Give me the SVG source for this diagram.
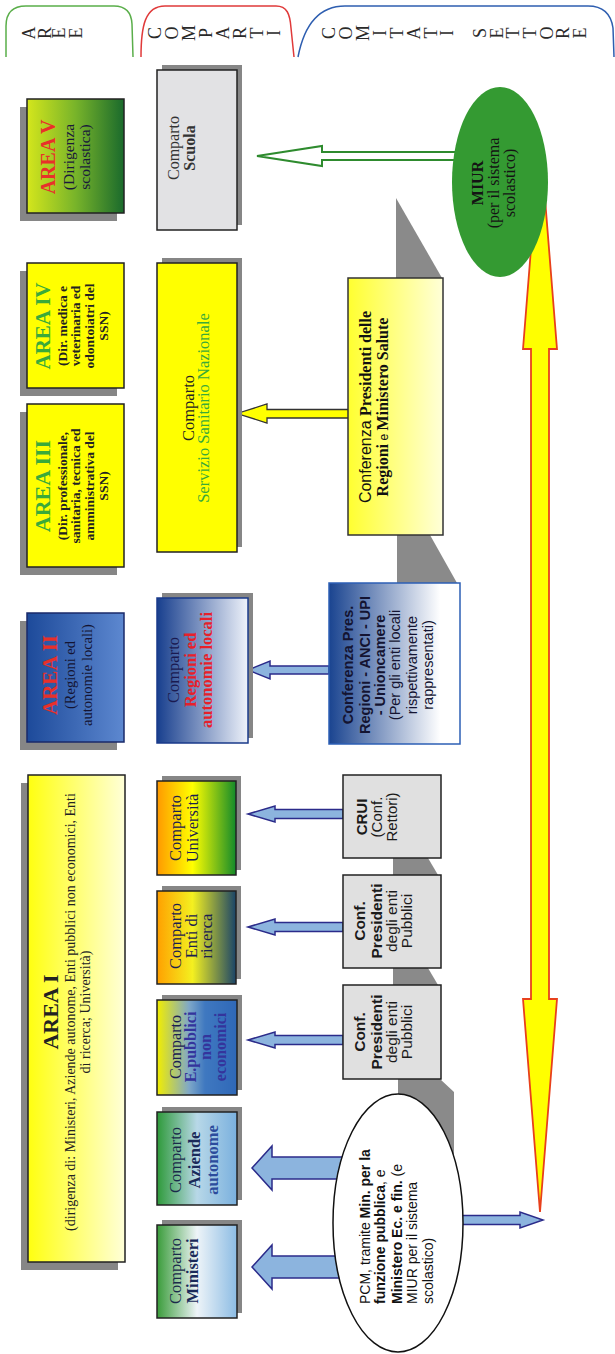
<svg xmlns="http://www.w3.org/2000/svg" width="615" height="1354" viewBox="0 0 615 1354">
<defs>
<linearGradient id="gAV" x1="0" y1="0" x2="1" y2="0"><stop offset="0" stop-color="#d4e61c"/><stop offset="0.5" stop-color="#78b42a"/><stop offset="1" stop-color="#1a6a2c"/></linearGradient>
<linearGradient id="gAI" x1="0" y1="0" x2="1" y2="0"><stop offset="0" stop-color="#ffff10"/><stop offset="1" stop-color="#ffffd8"/></linearGradient>
<linearGradient id="gConf" x1="0" y1="0" x2="1" y2="0"><stop offset="0" stop-color="#ffff30"/><stop offset="1" stop-color="#ffffd8"/></linearGradient>
<linearGradient id="gAII" x1="0" y1="0" x2="1" y2="0"><stop offset="0" stop-color="#1d4a9a"/><stop offset="1" stop-color="#5d88d0"/></linearGradient>
<linearGradient id="gBW" x1="0" y1="0" x2="1" y2="0"><stop offset="0" stop-color="#183f8e"/><stop offset="1" stop-color="#eef2fa"/></linearGradient>
<linearGradient id="gCR" x1="0" y1="0" x2="1" y2="0"><stop offset="0" stop-color="#1a4490"/><stop offset="0.85" stop-color="#ffffff"/></linearGradient>
<linearGradient id="gUni" x1="0" y1="0" x2="1" y2="0"><stop offset="0" stop-color="#ff9900"/><stop offset="0.45" stop-color="#ffff00"/><stop offset="1" stop-color="#138a2a"/></linearGradient>
<linearGradient id="gEnti" x1="0" y1="0" x2="1" y2="0"><stop offset="0" stop-color="#ffa000"/><stop offset="0.45" stop-color="#f4f020"/><stop offset="1" stop-color="#1a4468"/></linearGradient>
<linearGradient id="gEpub" x1="0" y1="0" x2="1" y2="0"><stop offset="0" stop-color="#f2ee00"/><stop offset="0.4" stop-color="#7fa8c8"/><stop offset="0.6" stop-color="#3f78c0"/><stop offset="1" stop-color="#2f68b8"/></linearGradient>
<linearGradient id="gAz" x1="0" y1="0" x2="1" y2="0"><stop offset="0" stop-color="#2e9a3a"/><stop offset="0.5" stop-color="#b8d8e8"/><stop offset="1" stop-color="#7ab0de"/></linearGradient>
<linearGradient id="gMin" x1="0" y1="0" x2="1" y2="0"><stop offset="0" stop-color="#3a9c3a"/><stop offset="0.5" stop-color="#eef4f8"/><stop offset="1" stop-color="#8cbce4"/></linearGradient>
</defs>
<style>
.sr{font-family:"Liberation Serif","Times New Roman",serif}
.ss{font-family:"Liberation Sans",Arial,sans-serif}
.b{font-weight:bold}
.bx{stroke:#222;stroke-width:1.5}
.sh{fill:#868686}
.grey{fill:#8a8a8a}
.ba{fill:#8cb4de;stroke:#2b2b8a;stroke-width:1.5}
.hdr{font-family:"Liberation Serif","Times New Roman",serif;font-size:18px;fill:#2a2a2a}
</style>
<rect width="615" height="1354" fill="#ffffff"/>

<g id="headers">
<path d="M6,57 L6,26 Q6,6 26,6 L114,6 Q131,6 132,24 L133,57" fill="none" stroke="#5aae4a" stroke-width="1.5"/>
<path d="M141,57 C141,26 145,6 165,6 L276,6 C287,6 290,14 291,28 L294,57" fill="none" stroke="#e03a3a" stroke-width="1.5"/>
<path d="M298,57 C304,26 318,6 345,6 L588,6 C604,6 611,14 613,28 L614,57" fill="none" stroke="#2e5eb0" stroke-width="1.5"/>
<text class="hdr" x="35 51 65 82" y="39.5 39 38.5 38.5" rotate="-90">AREE</text>
<text class="hdr" x="161 178 195 212 229 246 263 280" y="39 39.5 41 38 39.5 39 38.5 36" rotate="-90">COMPARTI</text>
<text class="hdr" x="335 352 369 386 403 420 437 453 469 486 503 519 536 553 569 586" y="39 39.5 41 36 38.5 39.5 38.5 36 33 38 38.5 38.5 38.5 39.5 39 38.5" rotate="-90">COMITATI SETTORE</text>
</g>

<g id="connectors">
<polygon class="grey" points="396,198 442,278 396,278"/>
<polygon class="grey" points="397,535 430,535 457,583 397,583"/>
<polygon class="grey" points="393,858 428,858 438,875 393,875"/>
<polygon class="grey" points="393,968 428,968 438,985 393,985"/>
<path class="grey" d="M398,1079 L440,1079 L454,1092 L454,1157.5 A65,129 0 0 0 398,1094 Z"/>
<polygon points="540,136 557,349 549,349 549,999 557,999 540,1212 523,999 531,999 531,349 523,349" fill="#ffff00" stroke="#e8401c" stroke-width="1.8"/>
<polygon points="257,156 322,146 322,152 456,152 456,160 322,160 322,166" fill="#ffffff" stroke="#2e8b2e" stroke-width="2"/>
<polygon points="237,413.5 267,404 267,409.5 350,409.5 350,418 267,418 267,423" fill="#ffff00" stroke="#333" stroke-width="1.3"/>
<polygon class="ba" points="248,670 270,661 270,666 329,666 329,674 270,674 270,679"/>
<polygon class="ba" points="248,814 275,806 275,809.5 343,809.5 343,818.5 275,818.5 275,822"/>
<polygon class="ba" points="248,927 275,919 275,922.5 343,922.5 343,931.5 275,931.5 275,935"/>
<polygon class="ba" points="248,1040 275,1032 275,1035.5 343,1035.5 343,1044.5 275,1044.5 275,1048"/>
<polygon class="ba" points="252,1168 272,1146 272,1157 350,1157 350,1179 272,1179 272,1190"/>
<polygon class="ba" points="252,1267 272,1245 272,1256 350,1256 350,1278 272,1278 272,1289"/>
<polygon class="ba" points="455,1215.5 520,1215.5 520,1212 543,1220 520,1228 520,1224.5 455,1224.5"/>
</g>

<g id="area5">
<rect class="sh" x="20" y="107" width="97" height="114"/>
<rect class="bx" x="27" y="99" width="97" height="114" fill="url(#gAV)"/>
<g transform="translate(75.5,157) rotate(-90)" text-anchor="middle" class="sr">
<text y="-20.5" class="b" font-size="20" fill="#e8302a">AREA V</text>
<text y="-1.8" font-size="15.5" fill="#1a1a3a">(Dirigenza</text>
<text y="14.2" font-size="15.5" fill="#1a1a3a">scolastica)</text>
</g>
</g>

<g id="area4">
<rect class="sh" x="20" y="271" width="97" height="125"/>
<rect class="bx" x="27" y="263" width="97" height="125" fill="#ffff00"/>
<g transform="translate(75.5,326) rotate(-90)" text-anchor="middle" class="sr">
<text y="-25.2" class="b" font-size="21" fill="#3aaa3a">AREA IV</text>
<text y="-8.8" class="b" font-size="13.5" fill="#222">(Dir. medica e</text>
<text y="4.2" class="b" font-size="13.5" fill="#222">veterinaria ed</text>
<text y="18.2" class="b" font-size="13.5" fill="#222">odontoiatri del</text>
<text y="32.2" class="b" font-size="13.5" fill="#222">SSN)</text>
</g>
</g>

<g id="area3">
<rect class="sh" x="20" y="412" width="97" height="163"/>
<rect class="bx" x="27" y="404" width="97" height="163" fill="#ffff00"/>
<g transform="translate(75.5,486) rotate(-90)" text-anchor="middle" class="sr">
<text y="-25.2" class="b" font-size="22" fill="#3aaa3a">AREA III</text>
<text y="-8.8" class="b" font-size="13.5" fill="#222">(Dir. professionale,</text>
<text y="4.2" class="b" font-size="13.5" fill="#222">sanitaria, tecnica ed</text>
<text y="18.2" class="b" font-size="13.5" fill="#222">amministrativa del</text>
<text y="32.2" class="b" font-size="13.5" fill="#222">SSN)</text>
</g>
</g>

<g id="area2">
<rect class="sh" x="20" y="621" width="97" height="129"/>
<rect x="27" y="613" width="97" height="129" fill="url(#gAII)" stroke="#1a2a6a" stroke-width="1.5"/>
<g transform="translate(75.5,675) rotate(-90)" text-anchor="middle" class="sr">
<text y="-18.2" class="b" font-size="21" fill="#e8302a">AREA II</text>
<text y="-0.3" font-size="14.5" fill="#141432">(Regioni ed</text>
<text y="16.7" font-size="14.5" fill="#141432">autonomie locali)</text>
</g>
</g>

<g id="area1">
<rect class="sh" x="21" y="783" width="97" height="487"/>
<rect class="bx" x="28" y="775" width="97" height="487" fill="url(#gAI)"/>
<g transform="translate(76.5,1012) rotate(-90)" text-anchor="middle" class="sr" fill="#222">
<text y="-18.8" class="b" font-size="22">AREA I</text>
<text y="-1.2" font-size="14">(dirigenza di: Ministeri, Aziende autonome, Enti pubblici non economici, Enti</text>
<text y="13.2" font-size="14">di ricerca; Università)</text>
</g>
</g>

<g id="comparto-scuola">
<rect class="sh" x="162" y="65" width="80" height="160"/>
<rect class="bx" x="157" y="70" width="80" height="160" fill="#e2e2e4"/>
<g transform="translate(197,148) rotate(-90)" text-anchor="middle" class="sr" font-size="16" fill="#333">
<text y="-18.4">Comparto</text>
<text y="-2.4" class="b">Scuola</text>
</g>
</g>

<g id="comparto-ssn">
<rect class="sh" x="162" y="258" width="80" height="289"/>
<rect class="bx" x="157" y="263" width="80" height="289" fill="#ffff00"/>
<g transform="translate(197,408) rotate(-90)" text-anchor="middle" class="sr" font-size="16.5">
<text y="-3.2" fill="#222">Comparto</text>
<text y="11.8" fill="#3aaa3a">Servizio Sanitario Nazionale</text>
</g>
</g>

<g id="comparto-regioni">
<rect class="sh" x="162" y="593" width="91" height="145"/>
<rect x="157" y="598" width="91" height="145" fill="url(#gBW)" stroke="#1a3a8a" stroke-width="1.5"/>
<g transform="translate(202.5,670) rotate(-90)" text-anchor="middle" class="sr" font-size="16.5">
<text y="-23.7" fill="#1a1a50">Comparto</text>
<text y="-6.7" class="b" fill="#e8202a">Regioni ed</text>
<text y="9.3" class="b" fill="#e8202a">autonomie locali</text>
</g>
</g>

<g id="comparto-universita">
<rect class="sh" x="162" y="776" width="79" height="94"/>
<rect class="bx" x="157" y="781" width="79" height="94" fill="url(#gUni)"/>
<g transform="translate(196.5,828) rotate(-90)" text-anchor="middle" class="sr" font-size="16.5" fill="#1a2050">
<text y="-15.7">Comparto</text>
<text y="1.3">Università</text>
</g>
</g>

<g id="comparto-enti-ricerca">
<rect class="sh" x="162" y="886" width="79" height="93"/>
<rect class="bx" x="157" y="891" width="79" height="93" fill="url(#gEnti)"/>
<g transform="translate(196.5,936) rotate(-90)" text-anchor="middle" class="sr" font-size="16.5" fill="#1a2050">
<text y="-15.7">Comparto</text>
<text y="0.3">Enti di</text>
<text y="15.3">ricerca</text>
</g>
</g>

<g id="comparto-epubblici">
<rect class="sh" x="162" y="995" width="80" height="95"/>
<rect class="bx" x="157" y="1000" width="80" height="95" fill="url(#gEpub)"/>
<g transform="translate(197,1047) rotate(-90)" text-anchor="middle" class="sr" font-size="16">
<text y="-16.2" fill="#1a2050">Comparto</text>
<text y="-1.2" class="b" fill="#34349c">E.pubblici</text>
<text y="13.8" class="b" fill="#34349c">non</text>
<text y="28.8" class="b" fill="#34349c">economici</text>
</g>
</g>

<g id="comparto-aziende">
<rect class="sh" x="162" y="1107" width="80" height="93"/>
<rect class="bx" x="157" y="1112" width="80" height="93" fill="url(#gAz)"/>
<g transform="translate(197,1160) rotate(-90)" text-anchor="middle" class="sr" font-size="16.5">
<text y="-16.2" fill="#1a2a4a">Comparto</text>
<text y="2.8" class="b" fill="#1a2a5a">Aziende</text>
<text y="20.8" class="b" fill="#2c4c9c">autonome</text>
</g>
</g>

<g id="comparto-ministeri">
<rect class="sh" x="162" y="1220" width="80" height="93"/>
<rect class="bx" x="157" y="1225" width="80" height="93" fill="url(#gMin)"/>
<g transform="translate(197,1271) rotate(-90)" text-anchor="middle" class="sr" font-size="16.5">
<text y="-16.2" fill="#1a2a4a">Comparto</text>
<text y="0.8" class="b" fill="#1a2a5a">Ministeri</text>
</g>
</g>

<g id="miur">
<ellipse cx="500" cy="182" rx="48" ry="95" fill="#349a32"/>
<g transform="translate(500,183) rotate(-90)" text-anchor="middle" class="sr" fill="#141414">
<text y="-17.4" class="b" font-size="16">MIUR</text>
<text y="-0.8" font-size="16">(per il sistema</text>
<text y="15.2" font-size="16">scolastico)</text>
</g>
</g>

<g id="conf-regioni-salute">
<rect x="348" y="278" width="95" height="257" fill="url(#gConf)" stroke="#333" stroke-width="1.5"/>
<g transform="translate(395.5,407) rotate(-90)" text-anchor="middle" font-size="16" fill="#111">
<text y="-24.9"><tspan class="ss">Conferenza </tspan><tspan class="sr b">Presidenti delle</tspan></text>
<text y="-7.9"><tspan class="sr b">Regioni</tspan><tspan class="ss" font-size="12"> e </tspan><tspan class="sr b">Ministero Salute</tspan></text>
</g>
</g>

<g id="conf-regioni-anci">
<rect x="329" y="583" width="131" height="161" fill="url(#gCR)" stroke="#2d5fb5" stroke-width="1.5"/>
<g transform="translate(394.5,665) rotate(-90)" text-anchor="middle" class="ss" font-size="14.5" fill="#141432">
<text y="-41.2" class="b">Conferenza Pres.</text>
<text y="-24.2" class="b">Regioni - ANCI - UPI</text>
<text y="-9.2" class="b">- Unioncamere</text>
<text y="5.8">(Per gli enti locali</text>
<text y="22.8">rispettivamente</text>
<text y="38.8">rappresentati)</text>
</g>
</g>

<g id="crui">
<rect class="bx" x="343" y="775" width="98" height="83" fill="#e0e0e0"/>
<g transform="translate(392,817) rotate(-90)" text-anchor="middle" class="ss" font-size="15" fill="#1a1a1a">
<text y="-24.7" class="b">CRUI</text>
<text y="-9.7">(Conf.</text>
<text y="5.3">Rettori)</text>
</g>
</g>

<g id="conf-enti-1">
<rect class="bx" x="343" y="875" width="98" height="93" fill="#e0e0e0"/>
<g transform="translate(392,921) rotate(-90)" text-anchor="middle" class="ss" font-size="15.5" fill="#1a1a1a">
<text y="-26.6" class="b">Conf.</text>
<text y="-9.6" class="b">Presidenti</text>
<text y="5.4">degli enti</text>
<text y="20.4">Pubblici</text>
</g>
</g>

<g id="conf-enti-2">
<rect class="bx" x="343" y="985" width="98" height="94" fill="#e0e0e0"/>
<g transform="translate(392,1032) rotate(-90)" text-anchor="middle" class="ss" font-size="15.5" fill="#1a1a1a">
<text y="-26.6" class="b">Conf.</text>
<text y="-9.6" class="b">Presidenti</text>
<text y="5.4">degli enti</text>
<text y="20.4">Pubblici</text>
</g>
</g>

<g id="pcm">
<ellipse cx="398" cy="1223" rx="65" ry="129" fill="#ffffff" stroke="#111" stroke-width="1.5"/>
<g transform="translate(398,1223) rotate(-90)" class="ss" font-size="14" fill="#111">
<text x="-81" y="-28.1">PCM, tramite <tspan class="b">Min. per la</tspan></text>
<text x="-81" y="-13.1"><tspan class="b">funzione pubblica</tspan>, e</text>
<text x="-81" y="3.9"><tspan class="b">Ministero Ec. e fin.</tspan> (e</text>
<text x="-81" y="18.9">MIUR per il sistema</text>
<text x="-81" y="34.9">scolastico)</text>
</g>
</g>
</svg>
